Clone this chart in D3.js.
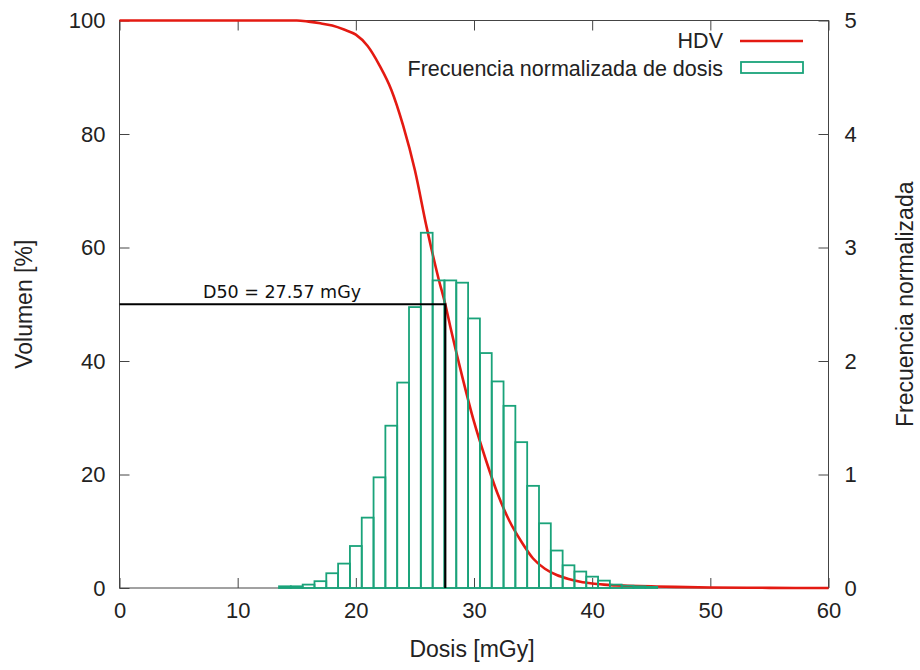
<!DOCTYPE html>
<html><head><meta charset="utf-8">
<script src="https://cdn.jsdelivr.net/npm/d3@7"></script>
<style>
body{margin:0;background:#fff;}
</style></head>
<body><svg id="c" width="920" height="670"></svg>
<script>
// HDV (dose-volume histogram) curve: dose [mGy], volume [%]
const hdvDose = [0, 10, 15, 16, 17, 18, 19, 20, 21, 22, 23, 24, 25, 26, 27, 27.57, 28, 29, 30, 31, 32, 33, 34, 35, 36, 37, 38, 39, 40, 41, 42, 43, 45, 47, 50, 55, 60];
const hdvVol  = [100, 100, 100, 99.8, 99.5, 99.1, 98.4, 97.5, 95.5, 92.1, 87.8, 81.5, 73.6, 63.5, 54.5, 50, 46.0, 37.3, 29.3, 22.6, 16.6, 11.8, 8.2, 5.2, 3.4, 2.3, 1.6, 1.1, 0.8, 0.6, 0.45, 0.4, 0.3, 0.2, 0.1, 0.03, 0];
// Normalized dose frequency histogram: bin centers [mGy], frequency
const binCenters = [14,15,16,17,18,19,20,21,22,23,24,25,26,27,28,29,30,31,32,33,34,35,36,37,38,39,40,41,42,43,44,45];
const binFreq = [0.015,0.015,0.03,0.06,0.13,0.215,0.37,0.62,0.975,1.43,1.81,2.475,3.13,2.71,2.71,2.69,2.375,2.07,1.82,1.605,1.285,0.9,0.57,0.33,0.2,0.145,0.1,0.065,0.03,0.02,0.015,0.01];
const binWidth = 1;
const d50 = 27.57;
const xTicks = [0,10,20,30,40,50,60];
const yTicks = [0,20,40,60,80,100];
const y2Ticks = [0,1,2,3,4,5];

const FONT = "Liberation Sans, Arial, sans-serif";
const svg = d3.select("#c");
const L=119.5, R=828.5, T=20.5, B=588;
const x = d3.scaleLinear().domain([0,60]).range([L,R]);
const y = d3.scaleLinear().domain([0,100]).range([B,T]);
const y2 = d3.scaleLinear().domain([0,5]).range([B,T]);
const axisCol = "#444";
const fs = 22;

const tickLen = 10;
function styleAxis(g){
  g.select(".domain").remove();
  g.selectAll("line").attr("stroke",axisCol);
  g.selectAll("text").style("font-family",FONT).style("font-size",fs+"px").attr("fill","#222");
}
const gAx = svg.append("g");
gAx.append("g").attr("transform",`translate(0,${B})`)
  .call(d3.axisBottom(x).tickValues(xTicks).tickSize(-tickLen).tickPadding(14).tickFormat(d3.format("d")))
  .call(styleAxis);
gAx.append("g").attr("transform",`translate(0,${T})`)
  .call(d3.axisTop(x).tickValues(xTicks).tickSize(-tickLen).tickFormat(""))
  .call(styleAxis);
gAx.append("g").attr("transform",`translate(${L},0)`)
  .call(d3.axisLeft(y).tickValues(yTicks).tickSize(-tickLen).tickPadding(14).tickFormat(d3.format("d")))
  .call(styleAxis);
gAx.append("g").attr("transform",`translate(${R},0)`)
  .call(d3.axisRight(y2).tickValues(y2Ticks).tickSize(-tickLen).tickPadding(16).tickFormat(d3.format("d")))
  .call(styleAxis);

// border
svg.append("rect").attr("x",L).attr("y",T).attr("width",R-L).attr("height",B-T)
  .attr("fill","none").attr("stroke",axisCol).attr("stroke-width",1);

// HDV line
const hdv = hdvDose.map((d,i)=>[d,hdvVol[i]]);
const red = "#e41a12";
svg.append("path").datum(hdv)
  .attr("d",d3.line().x(d=>x(d[0])).y(d=>y(d[1])).curve(d3.curveMonotoneX))
  .attr("fill","none").attr("stroke",red).attr("stroke-width",2.6);

// histogram
const green = "#1aa37a";
svg.append("g").selectAll("rect").data(binCenters.map((c,i)=>({c,f:binFreq[i]}))).join("rect")
  .attr("x",d=>x(d.c-binWidth/2)).attr("width",d=>x(d.c+binWidth/2)-x(d.c-binWidth/2))
  .attr("y",d=>y2(d.f)).attr("height",d=>y2(0)-y2(d.f))
  .attr("fill","none").attr("stroke",green).attr("stroke-width",1.8);

// D50 lines
svg.append("path")
  .attr("d",`M${x(0)},${y(50)}H${x(d50)}V${y(0)}`)
  .attr("fill","none").attr("stroke","#000").attr("stroke-width",2.2);
svg.append("text").attr("x",282).attr("y",y(50)-6).attr("text-anchor","middle")
  .style("font-family","DejaVu Sans").style("font-size","17.5px").attr("fill","#111")
  .text(`D50 = ${d50} mGy`);

// axis titles
function title(sel){ return sel.style("font-family",FONT).style("font-size","23px").attr("fill","#222").attr("text-anchor","middle"); }
title(svg.append("text")).attr("x",472).attr("y",657).text("Dosis [mGy]");
title(svg.append("text")).attr("transform",`translate(32,${(T+B)/2}) rotate(-90)`).text("Volumen [%]");
title(svg.append("text")).attr("transform",`translate(913,${(T+B)/2}) rotate(-90)`).text("Frecuencia normalizada");

// legend
const lg = svg.append("g");
lg.append("text").attr("x",723).attr("y",48).attr("text-anchor","end").style("font-family",FONT).style("font-size","21.5px").attr("fill","#222").text("HDV");
lg.append("line").attr("x1",740).attr("x2",803).attr("y1",41).attr("y2",41).attr("stroke",red).attr("stroke-width",2.6);
lg.append("text").attr("x",723).attr("y",76).attr("text-anchor","end").style("font-family",FONT).style("font-size","21.5px").attr("fill","#222").text("Frecuencia normalizada de dosis");
lg.append("rect").attr("x",741).attr("y",62).attr("width",62).attr("height",11).attr("fill","none").attr("stroke",green).attr("stroke-width",1.8);
</script></body></html>
